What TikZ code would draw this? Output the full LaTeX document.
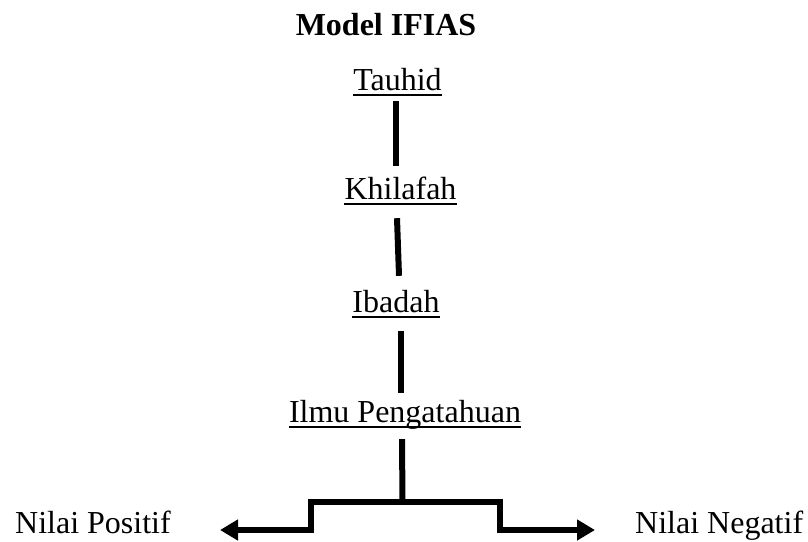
\documentclass[tikz,border=0pt]{standalone}
\usepackage{fontspec}
\setmainfont{Liberation Serif}
\usetikzlibrary{positioning,arrows.meta}
\tikzset{
	lbl/.style={inner sep=0pt,anchor=base,text height=22pt,text depth=7pt,font=\fontsize{32}{38}\selectfont},
	ttl/.style={lbl,font=\fontsize{32}{38}\selectfont\bfseries},
	link/.style={line width=6pt},
	uline/.style={line width=2pt},
	branch/.style={line width=6pt,{Triangle[length=18pt,width=20pt]}-{Triangle[length=18pt,width=20pt]}}
}
\begin{document}
\begin{tikzpicture}[x=1pt,y=-1pt]
\useasboundingbox (0,0) rectangle (808,541);

%Judul
\node[ttl] (title) at (386,35) {Model IFIAS};

%Tingkatan
\node[lbl] (tauhid) at (397.5,90) {Tauhid};
\node[lbl] (khilafah) at (400.5,199) {Khilafah};
\node[lbl] (ibadah) at (396,312) {Ibadah};
\node[lbl] (ilmu) at (405,422) {Ilmu Pengatahuan};

%Nilai
\node[lbl,anchor=base west] (positif) at (15,533) {Nilai Positif};
\node[lbl,anchor=base west] (negatif) at (635,533) {Nilai Negatif};

%Garis bawah
\foreach \n in {tauhid,khilafah,ibadah,ilmu}
	\draw[uline] ([yshift=-5pt]\n.base west) -- ([yshift=-5pt]\n.base east);

%Garis penghubung
\draw[link] ([xshift=-1.5pt,yshift=-4pt]tauhid.south) -- ([xshift=-4.5pt,yshift=11pt]khilafah.north);
\draw[link] ([xshift=-3.5pt,yshift=-12pt]khilafah.south) -- ([xshift=3pt,yshift=14pt]ibadah.north);
\draw[link] ([xshift=5pt,yshift=-12pt]ibadah.south) -- ([xshift=-4pt,yshift=7pt]ilmu.north);

%Cabang
\coordinate (split) at (402.5,502);
\coordinate (tipL) at (220,530);
\coordinate (tipR) at (595,530);
\draw[link] ([xshift=-3pt,yshift=-10pt]ilmu.south) -- (split);
\draw[branch] (tipL) -- (311,530) |- (split) -| (500,530) -- (tipR);

\end{tikzpicture}
\end{document}
